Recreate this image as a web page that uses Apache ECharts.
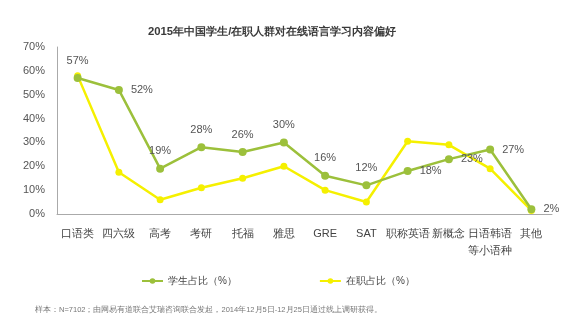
<!DOCTYPE html>
<html>
<head>
<meta charset="utf-8">
<script src="https://cdn.jsdelivr.net/npm/echarts@6/dist/echarts.min.js"></script>
<style>
  html, body { margin: 0; padding: 0; background: #fff; }
  #chart { width: 576px; height: 326px; }
</style>
</head>
<body>
<div id="chart"></div>
<script>
  // categories and values
  const categories = ['口语类', '四六级', '高考', '考研', '托福', '雅思', 'GRE', 'SAT', '职称英语', '新概念', '日语韩语\n等小语种', '其他'];
  const studentShare = [57, 52, 19, 28, 26, 30, 16, 12, 18, 23, 27, 2];
  const workerShare = [58, 17.5, 6, 11, 15, 20, 10, 5, 30.5, 29, 19, 1.5];
  const yTicks = [0, 10, 20, 30, 40, 50, 60, 70];

  // where each student label sits relative to its point
  const labelPos = ['top', 'right', 'top', 'top', 'top', 'top', 'top', 'top', 'right', 'right', 'right', 'right'];

  const green = '#9cc03b';
  const yellow = '#f5f000';

  let chart = echarts.init(document.getElementById('chart'));

  let studentData = studentShare.map((v, i) => ({
    value: v,
    label: { position: labelPos[i] }
  }));

  let option = {
    title: {
      text: '2015年中国学生/在职人群对在线语言学习内容偏好',
      left: 143,
      top: 21,
      textStyle: { fontSize: 11.3, fontWeight: 'bold', color: '#3a3a3a' }
    },
    legend: {
      bottom: 35,
      left: 136,
      itemGap: 82,
      itemWidth: 21,
      itemHeight: 7,
      textStyle: { color: '#444', fontSize: 10 },
      data: ['学生占比（%）', '在职占比（%）']
    },
    graphic: [{
      type: 'text',
      left: 35,
      top: 306,
      style: {
        text: '样本：N=7102；由网易有道联合艾瑞咨询联合发起，2014年12月5日-12月25日通过线上调研获得。',
        fontSize: 7.5,
        fill: '#777'
      }
    }],
    grid: { left: 57, right: 24, top: 47, bottom: 112 },
    xAxis: {
      type: 'category',
      data: categories,
      boundaryGap: true,
      axisLine: { lineStyle: { color: '#aaa' } },
      axisTick: { show: false },
      axisLabel: { color: '#444', fontSize: 11, margin: 11, interval: 0, lineHeight: 17 }
    },
    yAxis: {
      type: 'value',
      min: yTicks[0],
      max: yTicks[yTicks.length - 1],
      interval: 10,
      axisLine: { show: true, lineStyle: { color: '#aaa' } },
      axisTick: { show: false },
      splitLine: { show: false },
      axisLabel: { color: '#555', fontSize: 11, margin: 12, formatter: '{value}%' }
    },
    series: [
      {
        name: '学生占比（%）',
        type: 'line',
        data: studentData,
        symbol: 'circle',
        symbolSize: 8,
        lineStyle: { color: green, width: 2.5 },
        itemStyle: { color: green },
        label: {
          show: true,
          formatter: '{c}%',
          color: '#555',
          fontSize: 11,
          distance: 8
        },
        z: 3
      },
      {
        name: '在职占比（%）',
        type: 'line',
        data: workerShare,
        symbol: 'circle',
        symbolSize: 7,
        lineStyle: { color: yellow, width: 2.5 },
        itemStyle: { color: yellow },
        z: 2
      }
    ]
  };

  chart.setOption(option);
</script>
</body>
</html>
